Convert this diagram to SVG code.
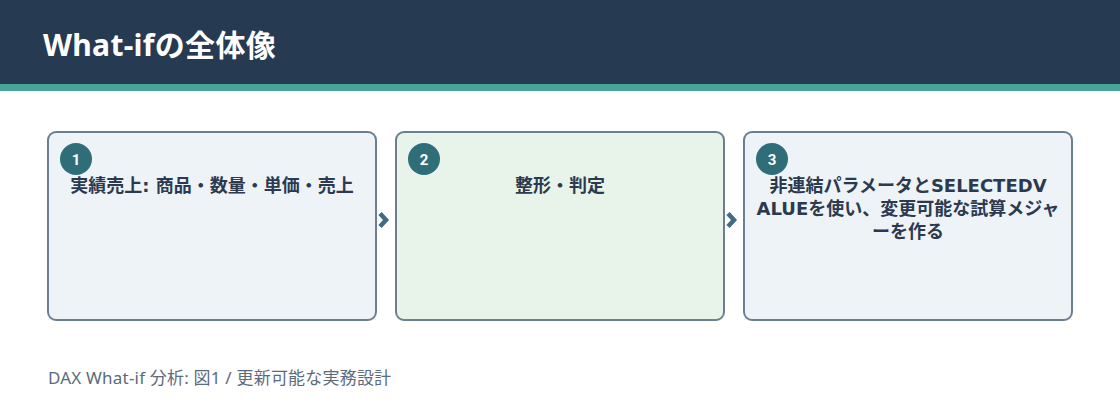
<svg xmlns="http://www.w3.org/2000/svg" width="1120" height="420" viewBox="0 0 1120 420">
<style>
.box{stroke:#6b7f91;stroke-width:2}
.b1{fill:#eef3f8}
.b2{fill:#e8f3ea}
.badge{fill:#2f6e78}
.num{font-family:"Roboto","Noto Sans CJK JP",sans-serif;font-weight:700;font-size:15px;fill:#ffffff;text-anchor:middle}
.lbl{font-family:"DejaVu Sans","Noto Sans CJK JP",sans-serif;font-weight:700;font-size:18px;fill:#2b3a4e;text-anchor:middle}
.arr{fill:none;stroke:#3f6b86;stroke-width:4.5;stroke-linejoin:miter}
</style>
<rect x="0" y="0" width="1120" height="420" fill="#ffffff"/>
<rect x="0" y="0" width="1120" height="84" fill="#263a52"/>
<rect x="0" y="84" width="1120" height="7" fill="#48a39a"/>
<text x="43" y="56" font-family="'Noto Sans','Noto Sans CJK JP',sans-serif" font-weight="700" font-size="30" letter-spacing="0.3" fill="#ffffff">What-ifの全体像</text>
<g id="connectors">
<path class="arr" d="M380,213.5 L386,220 L380,226.5"/>
<path class="arr" d="M728,213.5 L734,220 L728,226.5"/>
</g>
<g id="node1">
<rect class="box b1" x="48" y="132" width="328" height="188" rx="8"/>
<circle class="badge" cx="76" cy="159" r="16"/>
<text class="num" x="76" y="164.5">1</text>
<text class="lbl" x="212" y="192">実績売上: 商品・数量・単価・売上</text>
</g>
<g id="node2">
<rect class="box b2" x="396" y="132" width="328" height="188" rx="8"/>
<circle class="badge" cx="424" cy="159" r="16"/>
<text class="num" x="424" y="164.5">2</text>
<text class="lbl" x="560" y="192">整形・判定</text>
</g>
<g id="node3">
<rect class="box b1" x="744" y="132" width="328" height="188" rx="8"/>
<circle class="badge" cx="772" cy="159" r="16"/>
<text class="num" x="772" y="164.5">3</text>
<text class="lbl" x="908" y="192">非連結パラメータとSELECTEDV</text>
<text class="lbl" x="908" y="215">ALUEを使い、変更可能な試算メジャ</text>
<text class="lbl" x="908" y="238">ーを作る</text>
</g>
<text x="48" y="384" font-family="'Noto Sans','Noto Sans CJK JP',sans-serif" font-size="17" letter-spacing="0.2" fill="#5b6b7b">DAX What-if 分析: 図1 / 更新可能な実務設計</text>
</svg>
